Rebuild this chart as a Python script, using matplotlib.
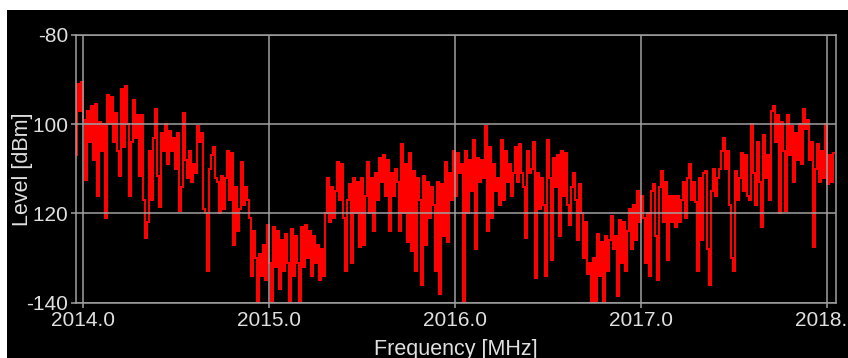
import numpy as np
import matplotlib
matplotlib.use('Agg')
import matplotlib.pyplot as plt
from matplotlib.patches import Rectangle

plt.rcParams['font.family'] = ['Liberation Sans', 'DejaVu Sans']
plt.rcParams['axes.unicode_minus'] = False

# sweep 2013.961 .. 2018.039 MHz, one reading every ~0.0108 MHz
f_start, f_stop = 2013.961, 2018.039

level_a = [-107, -91, -97, -90.5, -99, -112.5, -97, -104, -96, -108,
           -95.5, -116, -99.5, -106, -100, -121, -93.5, -100, -94, -104,
           -97.5, -106, -111.5, -92, -105, -91.5, -100, -116, -104, -94.5,
           -103, -98, -111.5, -98, -117, -125.5, -122, -106, -117, -103,
           -96.5, -111.5, -118.5, -102, -106, -100, -109, -101.5, -106, -103,
           -110, -102, -119.5, -114, -97.5, -108, -112, -106, -113, -109,
           -111, -100.5, -104, -102, -119, -120, -133, -110, -107, -105,
           -112, -113, -120, -111.5, -119, -112]
level_b = [-106, -117, -106.5, -127, -114, -124, -119, -108.5, -118, -114,
           -117, -121, -134, -124, -130, -140, -129, -134, -127, -135,
           -122.5, -131, -140.5, -123, -132, -124, -137, -126, -133, -124.5,
           -131, -140, -123.5, -134, -125, -131, -140, -123, -132, -122.5,
           -130, -124, -134, -125, -131, -127, -135, -128, -134, -120,
           -112, -122, -114, -121, -115, -108.5, -117, -109, -121, -133,
           -117, -113.5, -131, -112, -120, -113, -127.5, -112, -127, -116,
           -108.5, -120, -112, -124, -111, -117]
level_c = [-107.5, -113, -107, -116, -108, -124, -111, -116, -110, -113,
           -124, -104.5, -120, -109, -126.5, -106.5, -128.5, -110.5, -133, -112,
           -117, -136, -111.5, -127, -113, -121, -114, -118, -133, -113,
           -138, -113.5, -125, -108.5, -126.5, -111, -117, -106, -116, -106.5,
           -111, -109, -140.5, -106, -120, -108, -115, -103.5, -128, -107.5,
           -113, -108, -112, -100.5, -124, -105, -121, -109, -115, -112,
           -118, -103.5, -117, -106, -113, -109, -116, -111, -105, -113,
           -104.5, -111, -114, -125.5, -106, -111]
level_d = [-110, -104, -134.5, -111, -119, -112, -118, -134, -103.5, -112,
           -130.5, -107.5, -114, -107, -125, -106, -116, -106.5, -118, -122.5,
           -114, -111, -117, -126, -113.5, -120, -130, -122, -133.5, -131,
           -140, -130, -140.5, -124.5, -134, -126.5, -140, -125, -133, -126,
           -120.5, -128, -125, -138.5, -121.5, -131, -122, -133, -124, -119,
           -128, -118, -126, -115, -122, -116, -121, -131, -120, -134,
           -115, -113.5, -125, -135, -114, -110.5, -122, -113, -130.5, -116,
           -122, -116, -123, -116, -122, -117]
level_e = [-113, -121, -112, -109, -117, -113, -117.5, -133, -112, -126,
           -111, -110.5, -128, -136, -115, -110, -116, -112, -110, -106,
           -103, -110, -106, -118, -130, -133, -110.5, -117, -112, -106.5,
           -115, -107, -116, -117, -100, -111, -118, -104, -113, -123,
           -102.5, -112, -107, -117, -97, -96, -104, -98, -120, -99.5,
           -106, -119.5, -98, -107, -100.5, -113, -102, -108, -100, -109,
           -96.5, -101, -99, -108, -104, -127.5, -110, -104.5, -113, -106,
           -112, -100, -113.5, -107, -113, -106.5]

levels = np.array(level_a + level_b + level_c + level_d + level_e)
freqs = np.linspace(f_start, f_stop, len(levels))

xticks = [2014.0, 2015.0, 2016.0, 2017.0, 2018.0]
xlabels = ['2014.0', '2015.0', '2016.0', '2017.0', '2018.0']
yticks = [-80, -100, -120, -140]
ylabels = ['-80', '-100', '-120', '-140']

grid_col = '#a0a0a0'
text_col = '#e0e0e0'

fig = plt.figure(figsize=(8.48, 3.58), dpi=100)
fig.patch.set_facecolor('white')
fig.add_artist(Rectangle((7 / 848, 0), 1, 348 / 358, transform=fig.transFigure,
                         facecolor='black', edgecolor='none', zorder=-10))

ax = fig.add_axes([76 / 848, 1 - 302.7 / 358, 760 / 848, 267.7 / 358])
ax.set_facecolor('black')
ax.plot(freqs, levels, color='#ff0000', lw=1.25, drawstyle='steps-mid',
        antialiased=False)

ax.set_xlim(2013.961, 2018.05)
ax.set_ylim(-140, -80)
ax.set_xticks(xticks)
ax.set_xticklabels(xlabels)
ax.set_yticks(yticks)
ax.set_yticklabels(ylabels)
ax.set_axisbelow(False)
ax.grid(True, color=grid_col, lw=1.1)
for s in ax.spines.values():
    s.set_color(grid_col)
    s.set_linewidth(1.1)
ax.tick_params(color=grid_col, labelcolor=text_col, length=3.6, width=1.1,
               labelsize=15)
ax.tick_params(axis='x', pad=2.5)
ax.tick_params(axis='y', pad=2)

ax.set_xlabel('Frequency [MHz]', color=text_col, fontsize=15.5, labelpad=6)
ax.set_ylabel('Level [dBm]', color=text_col, fontsize=15.5, va='center',
              bbox=dict(facecolor='black', edgecolor='none', pad=0.5))
ax.yaxis.set_label_coords(-0.0704, 0.5)

fig.savefig('out.png', dpi=100, facecolor=fig.get_facecolor())
